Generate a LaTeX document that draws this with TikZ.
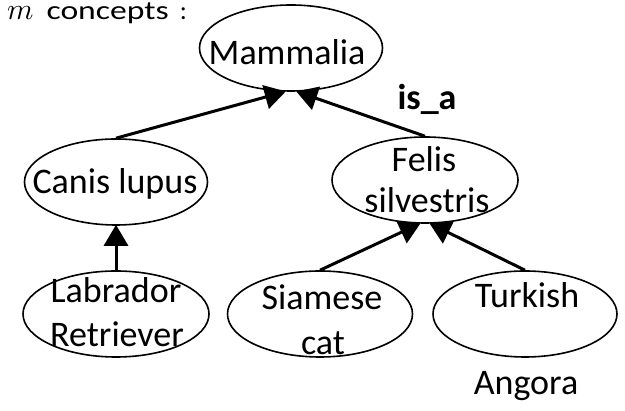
\documentclass[tikz,border=0pt]{standalone}
\usepackage{fontspec}
\setmainfont{Carlito}
\usetikzlibrary{shapes.geometric,arrows.meta}
\tikzset{
  concept/.style={draw, ellipse, line width=1.6pt, inner sep=0pt, minimum width=184pt, minimum height=86pt},
  txt/.style={anchor=base, inner sep=0pt, font=\fontsize{36}{40}\selectfont},
  isa/.style={line width=3pt, -{Triangle[length=21pt, width=24pt]}, shorten >=-1pt}
}
\begin{document}
\begin{tikzpicture}[x=1pt, y=-1pt]
\useasboundingbox (0,0) rectangle (625,411);
% ellipses
\node[concept, minimum width=183pt] (mam) at (291,48) {};
\node[concept, minimum width=183pt] (canis) at (116,182) {};
\node[concept, minimum width=186pt] (felis) at (425,180) {};
\node[concept, minimum width=186pt] (lab) at (116,314) {};
\node[concept, minimum width=185pt] (siam) at (320,314) {};
\node[concept, minimum width=184pt] (turk) at (525,314) {};
% texts
\node[txt] (tmam) at (287,65) {Mammalia};
\node[txt] (tcanis) at (115,194) {Canis lupus};
\node[txt] (tfel1) at (424,172) {Felis};
\node[txt] (tfel2) at (427,213) {silvestris};
\node[txt] (tlab1) at (116,303) {Labrador};
\node[txt] (tlab2) at (117,347) {Retriever};
\node[txt] (tsia1) at (322,310) {Siamese};
\node[txt] (tsia2) at (323,355) {cat};
\node[txt] (ttur1) at (527,308) {Turkish};
\node[txt] (ttur2) at (526,395) {Angora};
\node[txt, font=\fontsize{36}{40}\selectfont\bfseries] (tisa) at (427,110) {is\_a};
\node[anchor=base west, inner sep=0pt] (title) at (7,20) {\scalebox{3}{$m$}\hspace{13pt}\fontsize{26.5}{30}\selectfont\scalebox{1.27}[1]{concepts}\hspace{11pt}:};
% connectors
\draw[isa] (canis.north) -- (mam.262);
\draw[isa] (felis.north) -- (mam.278);
\draw[isa] (lab.north) -- (canis.south);
\draw[isa] (siam.north) -- (felis.263);
\draw[isa] (turk.north) -- (felis.277);
\end{tikzpicture}
\end{document}
